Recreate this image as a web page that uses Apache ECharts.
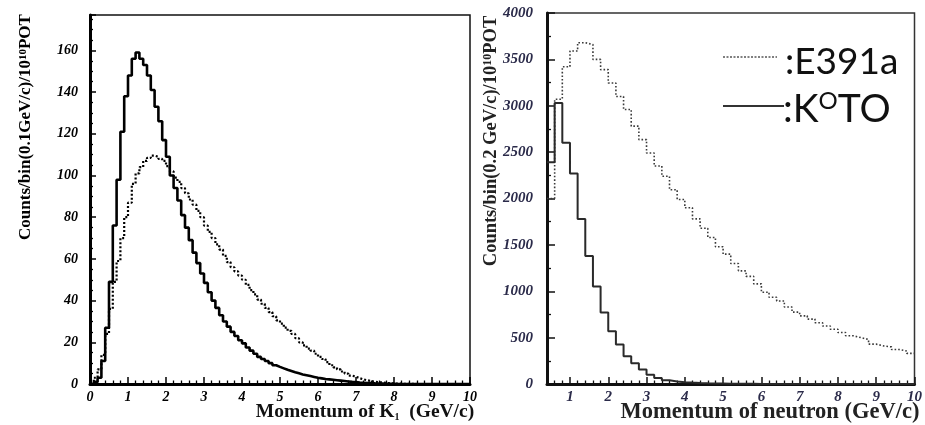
<!DOCTYPE html>
<html><head><meta charset="utf-8">
<script src="https://cdn.jsdelivr.net/npm/echarts@6/dist/echarts.min.js"></script>
<style>html,body{margin:0;padding:0;background:#fff}#c{width:925px;height:425px}</style>
</head><body><div id="c"></div>
<script>
// ---- Left panel: momentum of K_L, bins of 0.1 GeV/c starting at 0 ----
const leftBinStart = 0;
const leftBinWidth = 0.1;
const leftKOTO = [
  0, 1, 3, 11, 27, 49, 76, 98, 121, 138,
  148, 156, 159, 156, 153, 148, 141, 133, 126, 117,
  109, 100, 94, 88, 81, 75, 69, 63, 58, 53,
  48.5, 44, 40, 36.5, 33, 30, 27.5, 25, 23, 21,
  19.5, 17.5, 16, 14.5, 13, 12, 11, 10, 9, 8.2,
  7.5, 6.8, 6.2, 5.6, 5.1, 4.6, 4.2, 3.8, 3.4, 3.0,
  2.7, 2.4, 2.2, 2.0, 1.8, 1.6, 1.4, 1.2, 1.0, 0.9,
  0.7, 0.6, 0.5, 0.4, 0.3, 0.25, 0.2, 0.15, 0.1, 0.1,
  0, 0, 0, 0, 0, 0, 0, 0, 0, 0,
  0, 0, 0, 0, 0, 0, 0, 0, 0, 0
];
const leftE391a = [
  1, 3, 7, 14, 24, 36, 49, 59, 70, 80,
  87, 96, 101, 104, 107, 108.5, 109.5, 109, 108, 107,
  104.5, 102, 99, 97, 94, 91.5, 88.5, 86, 83, 80,
  76, 73, 70, 67, 64.5, 61.5, 58.5, 56, 54, 52,
  50, 47.5, 45, 43, 40.5, 38.5, 36.5, 34.5, 32.5, 30.5,
  29, 27, 25.5, 24, 22, 20, 18.5, 17, 16, 14.5,
  13, 12, 10.5, 9, 8, 7, 6, 5, 4, 3.5,
  2.8, 2.2, 1.8, 1.4, 1.1, 0.9, 0.7, 0.5, 0.4, 0.3,
  0.2, 0.15, 0.1, 0.1, 0.05, 0, 0, 0, 0, 0,
  0, 0, 0, 0, 0, 0, 0, 0, 0, 0
];

// ---- Right panel: momentum of neutron, bins of 0.2 GeV/c starting at 0.4 ----
const rightBinStart = 0.4;
const rightBinWidth = 0.2;
const rightKOTO = [
  2390, 3030, 2600, 2270, 1780, 1380, 1050, 770,
  570, 425, 300, 225, 155, 100, 65, 40, 28, 20,
  15, 11, 8, 6, 5, 4, 3, 2, 2, 1,
  0, 0, 0, 0, 0, 0, 0, 0, 0, 0,
  0, 0, 0, 0, 0, 0, 0, 0, 0, 0
];
const rightE391a = [
  2000, 3070, 3420, 3590, 3680, 3660, 3500, 3390,
  3245, 3100, 2960, 2780, 2635, 2490, 2350, 2240, 2095, 1990,
  1900, 1780, 1680, 1580, 1480, 1400, 1300, 1220, 1160, 1080,
  990, 935, 895, 830, 775, 735, 700, 660, 625, 590,
  555, 520, 500, 480, 430, 410, 400, 372, 355, 330
];

// ---- tick labels ----
const rightXTickLabels = [1, 2, 3, 4, 5, 6, 7, 8, 9, 10];

function hist(start, width, vals) {
  const pts = vals.map((v, i) => [+(start + i * width).toFixed(4), v]);
  pts.push([+(start + vals.length * width).toFixed(4), vals[vals.length - 1]]);
  return pts;
}
const rightXMinor = [];
for (let k = 3; k < 50; k++) { const v = +(k * 0.2).toFixed(4); if (Math.abs(v - Math.round(v)) > 1e-6) rightXMinor.push(v); }

const SERIF = '"Liberation Serif", "Times New Roman", serif';
const SANS = 'Lato, "Open Sans", sans-serif';
const plain = v => String(v);
const lblL = { color: '#000', fontFamily: SERIF, fontWeight: 'bold', fontStyle: 'italic', fontSize: 14, formatter: plain };
const lblR = { color: '#2b2b4a', fontFamily: SERIF, fontWeight: 'bold', fontStyle: 'italic', fontSize: 15, formatter: plain };

const chart = echarts.init(document.getElementById('c'), null, { renderer: 'canvas' });
chart.setOption({
  animation: false,
  backgroundColor: '#fff',
  grid: [
    { left: 90, top: 15, width: 380, height: 369, show: true, borderColor: '#111', borderWidth: 1.5, backgroundColor: 'transparent' },
    { left: 547, top: 13, width: 376, height: 371, show: true, borderColor: '#333', borderWidth: 1.5, backgroundColor: 'transparent' }
  ],
  xAxis: [
    { gridIndex: 0, type: 'value', min: 0, max: 10, interval: 1,
      axisLine: { show: true, lineStyle: { color: '#000', width: 3 } },
      axisTick: { show: true, inside: true, length: 7, lineStyle: { color: '#000', width: 1.5 } },
      minorTick: { show: true, splitNumber: 5, length: 3.5, lineStyle: { color: '#000', width: 1.3 } },
      axisLabel: Object.assign({ margin: 6 }, lblL), splitLine: { show: false } },
    { gridIndex: 1, type: 'value', min: 0.4, max: 10,
      axisLine: { show: true, lineStyle: { color: '#111', width: 3 } },
      axisTick: { show: true, inside: true, length: 7, customValues: rightXTickLabels, lineStyle: { color: '#111', width: 1.5 } },
      axisLabel: Object.assign({ margin: 6, customValues: rightXTickLabels }, lblR), splitLine: { show: false } },
    { gridIndex: 1, type: 'value', min: 0.4, max: 10, position: 'bottom',
      axisLine: { show: false },
      axisTick: { show: true, inside: true, length: 3.5, customValues: rightXMinor, lineStyle: { color: '#111', width: 1.3 } },
      axisLabel: { show: false }, splitLine: { show: false } }
  ],
  yAxis: [
    { gridIndex: 0, type: 'value', min: 0, max: 177, interval: 20,
      axisLine: { show: true, lineStyle: { color: '#000', width: 3 } },
      axisTick: { show: true, inside: true, length: 6, lineStyle: { color: '#000', width: 1.5 } },
      minorTick: { show: true, splitNumber: 4, length: 3, lineStyle: { color: '#000', width: 1.3 } },
      axisLabel: Object.assign({ margin: 12, showMaxLabel: false }, lblL), splitLine: { show: false } },
    { gridIndex: 1, type: 'value', min: 0, max: 4000, interval: 500,
      axisLine: { show: true, lineStyle: { color: '#111', width: 3 } },
      axisTick: { show: true, inside: true, length: 8, lineStyle: { color: '#111', width: 1.5 } },
      minorTick: { show: true, splitNumber: 2, length: 4, lineStyle: { color: '#111', width: 1.3 } },
      axisLabel: Object.assign({ margin: 14 }, lblR), splitLine: { show: false } }
  ],
  series: [
    { name: 'E391a', type: 'line', xAxisIndex: 0, yAxisIndex: 0, step: 'end', showSymbol: false, symbol: 'none',
      data: hist(leftBinStart, leftBinWidth, leftE391a),
      lineStyle: { color: '#000', width: 2.2, type: [2, 2] }, z: 3 },
    { name: 'KOTO', type: 'line', xAxisIndex: 0, yAxisIndex: 0, step: 'end', showSymbol: false, symbol: 'none',
      data: hist(leftBinStart, leftBinWidth, leftKOTO),
      lineStyle: { color: '#000', width: 2.6 }, z: 4 },
    { name: 'E391a', type: 'line', xAxisIndex: 1, yAxisIndex: 1, step: 'end', showSymbol: false, symbol: 'none',
      data: hist(rightBinStart, rightBinWidth, rightE391a),
      lineStyle: { color: '#3a3a3a', width: 1.6, type: [1.6, 2] }, z: 3 },
    { name: 'KOTO', type: 'line', xAxisIndex: 1, yAxisIndex: 1, step: 'end', showSymbol: false, symbol: 'none',
      data: hist(rightBinStart, rightBinWidth, rightKOTO),
      lineStyle: { color: '#2a2a2a', width: 2 }, z: 4 }
  ],
  graphic: [
    { type: 'text', x: 26, y: 127, rotation: Math.PI / 2, z: 10,
      style: { text: 'Counts/bin(0.1GeV/c)/10{s|10}POT', font: 'bold 17px ' + SERIF, fill: '#000',
        align: 'center', verticalAlign: 'middle', textAlign: 'center', textVerticalAlign: 'middle',
        rich: { s: { fontSize: 11, fontWeight: 'bold', fontFamily: SERIF, verticalAlign: 'top', fill: '#000' } } } },
    { type: 'text', x: 491, y: 141, rotation: Math.PI / 2, z: 10,
      style: { text: 'Counts/bin(0.2 GeV/c)/10{s|10}POT', font: 'bold 18.5px ' + SERIF, fill: '#222',
        align: 'center', verticalAlign: 'middle', textAlign: 'center', textVerticalAlign: 'middle',
        rich: { s: { fontSize: 12, fontWeight: 'bold', fontFamily: SERIF, verticalAlign: 'top', fill: '#222' } } } },
    { type: 'text', x: 365, y: 412, z: 10,
      style: { text: 'Momentum of K{b|1}  (GeV/c)', font: 'bold 19.5px ' + SERIF, fill: '#111',
        align: 'center', verticalAlign: 'middle', textAlign: 'center', textVerticalAlign: 'middle',
        rich: { b: { fontSize: 10, fontWeight: 'bold', fontFamily: SERIF, verticalAlign: 'bottom', fill: '#111' } } } },
    { type: 'text', x: 770, y: 412, z: 10,
      style: { text: 'Momentum of neutron (GeV/c)', font: 'bold 22.5px ' + SERIF, fill: '#222',
        align: 'center', verticalAlign: 'middle', textAlign: 'center', textVerticalAlign: 'middle' } },
    { type: 'line', z: 10, shape: { x1: 723, y1: 57, x2: 777, y2: 57 },
      style: { stroke: '#555', lineWidth: 1.5, lineDash: [2, 1.5] } },
    { type: 'line', z: 10, shape: { x1: 723, y1: 106, x2: 784, y2: 106 },
      style: { stroke: '#333', lineWidth: 2 } },
    { type: 'text', x: 785, y: 62, z: 10,
      style: { text: ':E391a', font: '37px ' + SANS, fill: '#111',
        align: 'left', verticalAlign: 'middle', textAlign: 'left', textVerticalAlign: 'middle' } },
    { type: 'text', x: 783, y: 109, z: 10,
      style: { text: ':K{s|O}TO', font: '39px ' + SANS, fill: '#111',
        align: 'left', verticalAlign: 'middle', textAlign: 'left', textVerticalAlign: 'middle',
        rich: { s: { fontSize: 24, fontFamily: SANS, verticalAlign: 'top', fill: '#111' } } } }
  ]
});
</script>
</body></html>
